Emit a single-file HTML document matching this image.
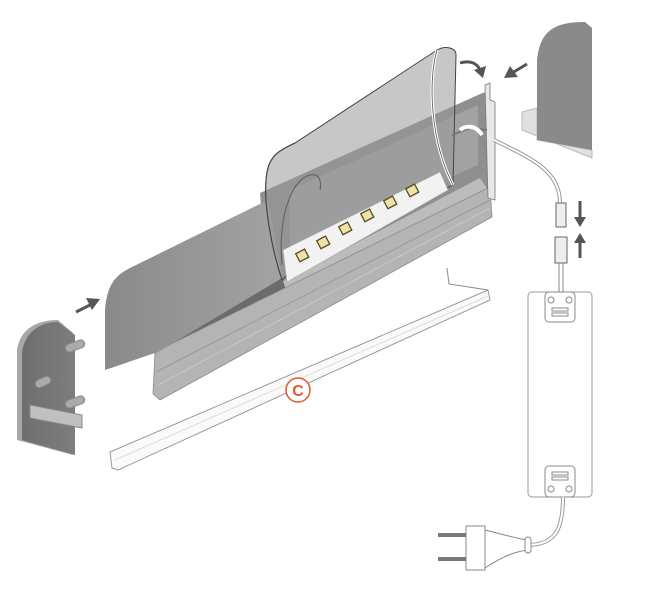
<!DOCTYPE html>
<html><head><meta charset="utf-8"><style>html,body{margin:0;padding:0;background:#fff}svg{display:block}</style></head>
<body>
<svg width="659" height="603" viewBox="0 0 659 603" xmlns="http://www.w3.org/2000/svg">
<defs>
<linearGradient id="dg" x1="0" y1="0" x2="1" y2="0"><stop offset="0" stop-color="#8a8a8a"/><stop offset="1" stop-color="#a3a3a3"/></linearGradient>
<linearGradient id="cap" x1="0" y1="0" x2="1" y2="0"><stop offset="0" stop-color="#6e6e6e"/><stop offset="1" stop-color="#7e7e7e"/></linearGradient>
</defs>
<!-- profile body (interior) -->
<polygon points="260,193 478,95 490,90 490,200 282,290 268,290" fill="#8f8f8f"/>
<polygon points="290,190 478,105 478,165 290,250" fill="#a2a2a2"/>
<!-- light face below strip -->
<polygon points="282,282 480,178 488,190 286,298" fill="#bcbcbc"/>
<!-- dark channel left -->
<polygon points="155,350 282,278 288,296 157,362" fill="#6c6c6c"/>
<!-- rail -->
<polygon points="155,352 490,187 492,217 160,400 153,394" fill="#b4b4b4" stroke="#8a8a8a" stroke-width="0.8"/>
<line x1="156" y1="372" x2="490" y2="200" stroke="#999"/>
<line x1="158" y1="385" x2="490" y2="208" stroke="#c8c8c8"/>
<!-- front diffuser -->
<path d="M105,370 L105,310 C107,285 115,275 132,267 L268,200 L282,278 L158,352 Z" fill="url(#dg)"/>
<!-- peeled part -->
<path d="M282,280 C272,250 262,200 267,172 C270,155 280,150 295,143 L437,50 C446,45 456,48 456,55 L453,185 L300,262 Z" fill="#999" fill-opacity="0.55" stroke="#444" stroke-width="1"/>
<!-- LED strip -->
<polygon points="283,250 440,172 448,190 287,282" fill="#f2f2f2" stroke="#aaa" stroke-width="0.6"/>
<g fill="#efe2a8" stroke="#5a4a20" stroke-width="1.3">
<rect x="297" y="251" width="10" height="9" transform="rotate(-28 302 255)"/>
<rect x="318" y="238" width="10" height="9" transform="rotate(-28 323 242)"/>
<rect x="340" y="224" width="10" height="9" transform="rotate(-28 345 228)"/>
<rect x="362" y="211" width="10" height="9" transform="rotate(-28 367 215)"/>
<rect x="385" y="198" width="10" height="9" transform="rotate(-28 390 202)"/>
<rect x="407" y="186" width="10" height="9" transform="rotate(-28 412 190)"/>
</g>
<path d="M282,280 C272,250 262,200 267,172 C270,155 280,150 295,143" fill="none" stroke="#444" stroke-width="1"/>
<path d="M437,50 C428,80 430,140 453,185" fill="none" stroke="#fff" stroke-width="3"/>
<path d="M437,50 C428,80 430,140 453,185" fill="none" stroke="#555" stroke-width="0.8"/>
<path d="M282,265 C278,220 290,180 310,175 C318,173 322,180 320,190" fill="none" stroke="#666" stroke-width="1.2"/>
<!-- right profile end -->
<path d="M485,85 L490,83 L490,100 L495,102 L495,200 L488,198 Z" fill="#e8e8e8" stroke="#777" stroke-width="0.8"/>
<path d="M452,135 L470,128 L487,130" fill="none" stroke="#777" stroke-width="2"/>
<path d="M460,130 C466,125 476,125 482,135" fill="none" stroke="#fff" stroke-width="4"/>
<!-- diffuser C -->
<polygon points="110,452 488,290 490,300 118,470 112,468" fill="#fafafa" stroke="#999" stroke-width="1"/>
<line x1="115" y1="460" x2="488" y2="296" stroke="#ddd"/>
<path d="M447,268 L449,284 L488,290" fill="none" stroke="#888"/>
<circle cx="298" cy="390" r="12" fill="#fff" stroke="#e05a2b" stroke-width="1.5"/>
<text x="298" y="396" text-anchor="middle" font-family="Liberation Sans, sans-serif" font-size="16" font-weight="bold" fill="#e05a2b">C</text>
<!-- left end cap -->
<path d="M17,440 L17,350 C20,328 38,320 58,320 L73,333 L73,455 Z" fill="#a8a8a8"/>
<path d="M22,440 L22,352 C25,332 40,322 58,322 L75,335 L75,455 Z" fill="url(#cap)"/>
<g fill="#aaa" stroke="#888">
<rect x="65" y="342" width="20" height="8" rx="4" transform="rotate(-20 75 346)"/>
<rect x="35" y="378" width="16" height="8" rx="4" transform="rotate(-25 43 382)"/>
<rect x="65" y="398" width="20" height="8" rx="4" transform="rotate(-20 75 402)"/>
<polygon points="30,405 82,415 82,428 30,418" fill="#c0c0c0"/>
</g>
<!-- right end cap -->
<polygon points="522,112 537,108 537,140 592,150 592,158 522,130" fill="#e0e0e0" stroke="#bbb"/>
<path d="M537,140 L537,60 C540,30 555,22 585,22 L592,28 L592,150 Z" fill="#8a8a8a"/>
<!-- arrows -->
<g fill="none" stroke="#555" stroke-width="3">
<line x1="76" y1="312" x2="92" y2="304"/>
<line x1="527" y1="64" x2="512" y2="73"/>
<path d="M460,63 C470,60 477,63 480,70"/>
<line x1="580" y1="201" x2="580" y2="220"/>
<line x1="580" y1="240" x2="580" y2="258"/>
</g>
<g fill="#555">
<polygon points="100,299 86,298 92,310"/>
<polygon points="504,78 510,66 518,77"/>
<polygon points="483,78 474,70 486,66"/>
<polygon points="580,227 574,217 586,217"/>
<polygon points="580,233 574,243 586,243"/>
</g>
<!-- cable -->
<path d="M494,140 C530,158 560,170 560,203" fill="none" stroke="#999" stroke-width="4"/>
<path d="M494,140 C530,158 560,170 560,203" fill="none" stroke="#fff" stroke-width="2"/>
<rect x="556" y="203" width="10" height="24" fill="#eee" stroke="#666"/>
<rect x="555" y="237" width="12" height="26" fill="#eee" stroke="#666"/>
<line x1="559" y1="263" x2="559" y2="292" stroke="#888"/>
<line x1="563" y1="263" x2="563" y2="292" stroke="#888"/>
<!-- driver -->
<rect x="528" y="292" width="64" height="205" rx="4" fill="#fff" stroke="#999"/>
<rect x="545" y="292" width="30" height="30" rx="4" fill="#fff" stroke="#888"/>
<circle cx="551" cy="300" r="3" fill="none" stroke="#888"/><circle cx="569" cy="300" r="3" fill="none" stroke="#888"/>
<rect x="552" y="308" width="16" height="3" fill="none" stroke="#888"/><rect x="552" y="313" width="16" height="3" fill="none" stroke="#888"/>
<rect x="545" y="466" width="30" height="31" rx="4" fill="#fff" stroke="#888"/>
<rect x="552" y="472" width="16" height="3" fill="none" stroke="#888"/><rect x="552" y="477" width="16" height="3" fill="none" stroke="#888"/>
<circle cx="551" cy="489" r="3" fill="none" stroke="#888"/><circle cx="569" cy="489" r="3" fill="none" stroke="#888"/>
<path d="M563,497 C563,530 555,545 527,545" fill="none" stroke="#999" stroke-width="4"/>
<path d="M563,497 C563,530 555,545 527,545" fill="none" stroke="#fff" stroke-width="2"/>
<!-- plug -->
<path d="M485,530 C505,535 515,538 527,540 L527,550 C515,552 505,555 485,568 Z" fill="#fff" stroke="#888"/>
<rect x="525" y="537" width="6" height="16" rx="3" fill="#fff" stroke="#888"/>
<rect x="466" y="526" width="19" height="44" fill="#fff" stroke="#888"/>
<line x1="438" y1="535" x2="466" y2="535" stroke="#777" stroke-width="4"/>
<line x1="438" y1="559" x2="466" y2="559" stroke="#777" stroke-width="4"/>
</svg>
</body></html>
